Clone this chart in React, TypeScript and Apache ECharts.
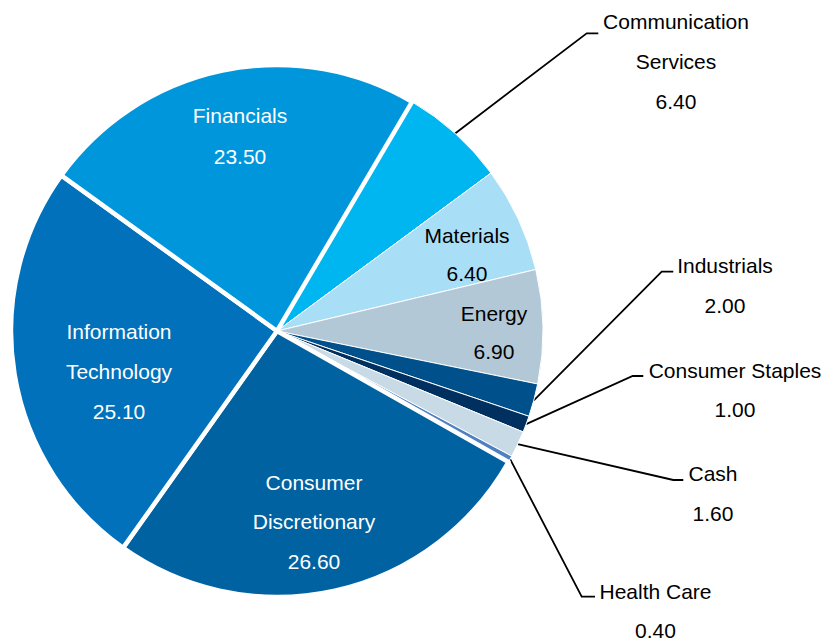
import React, { useEffect, useRef } from "react";
import * as echarts from "echarts";

// ---- data ----
const categories = [
  "Communication Services",
  "Materials",
  "Energy",
  "Industrials",
  "Consumer Staples",
  "Cash",
  "Health Care",
  "Consumer Discretionary",
  "Information Technology",
  "Financials",
];
const values = [6.4, 6.4, 6.9, 2.0, 1.0, 1.6, 0.4, 26.6, 25.1, 23.5];
const displayNames: Record<string, string> = {
  "Communication Services": "Communication\nServices",
  "Consumer Discretionary": "Consumer\nDiscretionary",
  "Information Technology": "Information\nTechnology",
};

// ---- styles ----
const colors: Record<string, string> = {
  "Communication Services": "#00B6F0",
  Materials: "#A9DEF7",
  Energy: "#B2C8D6",
  Industrials: "#00508C",
  "Consumer Staples": "#00305F",
  Cash: "#C8DAE6",
  "Health Care": "#4E80C2",
  "Consumer Discretionary": "#0062A1",
  "Information Technology": "#0071BA",
  Financials: "#0096DB",
};
const thickBorder = new Set(["Financials", "Information Technology", "Consumer Discretionary"]);
const outsideLabels = new Set(["Communication Services", "Industrials", "Consumer Staples", "Cash", "Health Care"]);
const whiteText = new Set(["Financials", "Information Technology", "Consumer Discretionary"]);

// label block centres and line heights (layout)
const labelPos: Record<string, { x: number; y: number; lh: number }> = {
  Financials: { x: 240, y: 136, lh: 41 },
  "Communication Services": { x: 676, y: 61, lh: 40 },
  Materials: { x: 467, y: 254.5, lh: 38 },
  Energy: { x: 494, y: 332.5, lh: 38 },
  Industrials: { x: 725, y: 285, lh: 40 },
  "Consumer Staples": { x: 735, y: 389.5, lh: 39 },
  Cash: { x: 713, y: 493, lh: 40 },
  "Health Care": { x: 655.5, y: 611, lh: 39 },
  "Consumer Discretionary": { x: 314, y: 521.5, lh: 39.5 },
  "Information Technology": { x: 119, y: 371, lh: 40 },
};
// leader line elbow / end points (layout)
const leader: Record<string, number[][]> = {
  "Communication Services": [[586.7, 33.3], [598.3, 33.3]],
  Industrials: [[661.7, 271.7], [673.3, 271.7]],
  "Consumer Staples": [[632.7, 376], [643.3, 376]],
  Cash: [[673.3, 480], [683.3, 480]],
  "Health Care": [[581.7, 596.7], [595, 596.7]],
};

const FONT = 'Arial, "Liberation Sans", sans-serif';

export default function App() {
  const ref = useRef<HTMLDivElement>(null);
  useEffect(() => {
    if (!ref.current) return;
    const chart = echarts.init(ref.current, undefined, { renderer: "svg" });
    const data = categories.map((name, i) => {
      const outside = outsideLabels.has(name);
      return {
        name,
        value: values[i],
        itemStyle: {
          color: colors[name],
          borderColor: "#ffffff",
          borderWidth: thickBorder.has(name) ? 4.5 : 1,
        },
        label: {
          position: outside ? "outside" : "inside",
          color: whiteText.has(name) ? "#ffffff" : "#000000",
          lineHeight: labelPos[name].lh,
        },
        labelLine: {
          show: outside,
          length: 10,
          length2: 10,
          lineStyle: { color: "#000000", width: 1.8 },
        },
      };
    });
    chart.setOption({
      animation: false,
      backgroundColor: "#ffffff",
      series: [
        {
          type: "pie",
          center: [277, 331],
          radius: 266,
          startAngle: 59.5,
          clockwise: true,
          avoidLabelOverlap: false,
          silent: true,
          emphasis: { disabled: true },
          label: {
            show: true,
            fontFamily: FONT,
            fontSize: 21,
            overflow: "none",
            align: "center",
            formatter: (p: any) =>
              (displayNames[p.name] || p.name) + "\n" + Number(p.value).toFixed(2),
          },
          labelLayout: (params: any) => {
            const name = categories[params.dataIndex];
            const pos = labelPos[name];
            const out: any = {
              x: pos.x,
              y: pos.y,
              align: "center",
              verticalAlign: "middle",
            };
            if (leader[name] && params.labelLinePoints) {
              const start = params.labelLinePoints[0];
              out.labelLinePoints = [start, leader[name][0], leader[name][1]];
            }
            return out;
          },
          data,
        },
      ],
    });
    return () => chart.dispose();
  }, []);
  return (
    <div
      ref={ref}
      style={{ position: "fixed", left: 0, top: 0, width: 832, height: 644 }}
    />
  );
}
